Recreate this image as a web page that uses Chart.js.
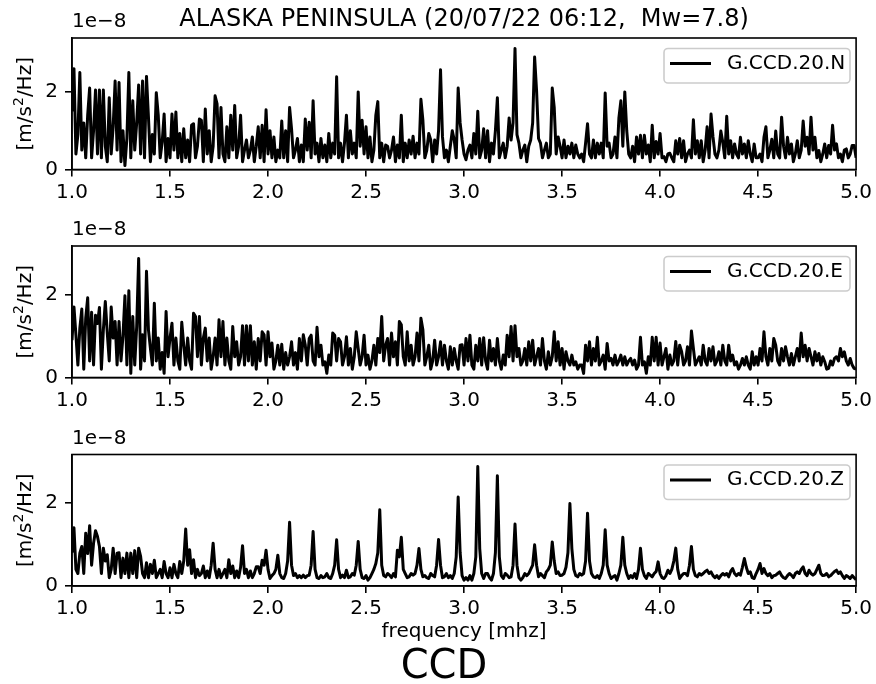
<!DOCTYPE html>
<html>
<head>
<meta charset="utf-8">
<script src="https://cdn.jsdelivr.net/npm/chart.js@4.4.0/dist/chart.umd.min.js"></script>
<style>
  html, body { margin: 0; padding: 0; background: #fff; }
  #wrap { position: relative; width: 876px; height: 684px; }
  #wrap canvas { position: absolute; left: 0; top: 0; }
</style>
</head>
<body>
<div id="wrap">
  <canvas id="chartN" width="876" height="684"></canvas>
  <canvas id="chartE" width="876" height="684"></canvas>
  <canvas id="chartZ" width="876" height="684"></canvas>
</div>
<script>
// spectra sampled every 0.01 mHz from 1.0 to 5.0, amplitudes in 1e-8 m/s^2/Hz
const F_START = 1.0;
const F_STEP = 0.01;
const xTicks = [1.0, 1.5, 2.0, 2.5, 3.0, 3.5, 4.0, 4.5, 5.0];
const yTicks = [0, 2];
const stations = ['G.CCD.20.N', 'G.CCD.20.E', 'G.CCD.20.Z'];
const yMax = [3.39, 3.17, 3.16];

const ampN = [
  1.5, 2.6, 0.4, 0.9, 2.5, 0.5, 1.2, 0.3, 1.4, 2.1,
  0.3, 1.0, 2.05, 0.4, 2.05, 0.3, 2.05, 0.6, 0.2, 1.85,
  0.4, 1.1, 2.28, 0.5, 2.24, 0.2, 1.0, 0.1, 0.8, 2.5,
  0.3, 1.77, 0.5, 1.2, 2.18, 0.4, 2.28, 0.3, 2.4, 1.35,
  0.2, 0.9, 0.4, 1.98, 1.4, 0.3, 0.7, 1.43, 0.2, 0.8,
  0.3, 1.43, 0.5, 1.48, 0.3, 0.93, 0.2, 1.05, 0.3, 0.76,
  0.2, 1.14, 1.18, 0.3, 0.6, 1.3, 1.27, 0.2, 1.56, 0.4,
  1.0, 0.2, 0.6, 1.9, 1.69, 0.3, 1.6, 0.4, 0.2, 1.1,
  0.3, 1.4, 0.5, 1.65, 0.3, 0.6, 1.4, 0.2, 0.5, 0.76,
  0.3, 0.5, 0.84, 0.2, 0.6, 1.1, 0.3, 1.14, 0.2, 1.54,
  0.4, 1.0, 0.3, 0.84, 0.2, 0.5, 0.3, 1.25, 0.3, 1.0,
  0.2, 1.6, 1.05, 0.3, 0.5, 0.8, 0.2, 0.63, 0.2, 1.3,
  0.5, 1.22, 0.3, 1.77, 0.4, 0.68, 0.2, 0.8, 0.3, 0.63,
  0.2, 0.93, 0.3, 0.68, 0.4, 2.39, 0.3, 0.68, 0.2, 0.68,
  1.4, 0.3, 1.0, 0.4, 0.68, 0.3, 2.0, 0.6, 1.27, 0.4,
  1.1, 0.3, 0.84, 0.2, 0.5, 1.4, 1.75, 0.3, 0.68, 0.2,
  0.63, 0.6, 0.3, 0.5, 0.84, 0.2, 0.63, 0.3, 1.4, 0.2,
  0.68, 0.3, 0.76, 0.4, 0.86, 0.3, 0.68, 0.4, 1.81, 1.27,
  0.3, 0.5, 0.93, 0.76, 0.2, 0.76, 0.4, 1.0, 2.57, 0.84,
  0.3, 0.5, 0.2, 0.6, 1.0, 0.76, 0.3, 2.1, 1.2, 0.76,
  0.4, 0.25, 0.5, 0.63, 0.3, 0.93, 0.4, 1.5, 0.3, 0.5,
  1.05, 0.3, 1.0, 0.2, 0.68, 0.4, 1.0, 1.85, 0.3, 0.5,
  0.68, 0.3, 0.6, 1.33, 0.76, 1.2, 3.12, 0.9, 0.68, 0.3,
  0.5, 0.63, 0.2, 0.6, 0.76, 1.2, 2.9, 2.03, 0.8, 0.68,
  0.3, 0.5, 0.68, 0.3, 0.4, 2.1, 1.6, 0.4, 0.84, 0.6,
  0.3, 0.76, 0.3, 0.6, 0.4, 0.68, 0.3, 0.63, 0.4, 0.3,
  0.4, 0.2, 0.68, 1.18, 0.4, 0.3, 0.76, 0.3, 0.68, 0.4,
  0.68, 0.3, 1.97, 0.6, 0.68, 0.3, 0.4, 0.84, 0.3, 1.33,
  1.77, 0.6, 2.0, 1.0, 0.4, 0.3, 0.6, 0.2, 0.84, 0.4,
  0.88, 0.3, 0.88, 0.4, 0.63, 0.2, 1.14, 0.3, 0.72, 0.4,
  0.93, 0.3, 0.33, 0.2, 0.4, 0.42, 0.3, 0.2, 0.74, 0.4,
  0.8, 0.3, 0.74, 0.2, 0.4, 0.5, 0.3, 1.28, 0.4, 0.74,
  0.3, 0.74, 0.2, 0.5, 1.1, 0.3, 1.43, 0.84, 0.4, 0.3,
  0.5, 0.99, 0.7, 0.3, 1.37, 0.4, 0.74, 0.3, 0.66, 0.4,
  0.3, 0.83, 0.4, 0.66, 0.3, 0.74, 0.4, 0.2, 0.66, 0.3,
  0.3, 0.4, 0.2, 0.83, 1.1, 0.3, 0.5, 0.78, 0.3, 0.99,
  0.4, 0.3, 1.35, 0.6, 0.3, 0.83, 0.4, 0.66, 0.2, 0.4,
  0.74, 0.3, 0.5, 1.25, 0.6, 0.83, 0.4, 1.35, 0.5, 0.83,
  0.3, 0.49, 0.2, 0.4, 0.66, 0.3, 0.62, 0.4, 1.14, 0.5,
  0.66, 0.3, 0.4, 0.2, 0.5, 0.53, 0.3, 0.4, 0.62, 0.62,
  0.3
];

const ampE = [
  0.9, 1.7, 1.03, 0.3, 1.19, 1.65, 0.2, 1.43, 1.92, 0.4,
  1.57, 0.3, 1.5, 1.3, 1.69, 0.2, 1.15, 1.83, 1.07, 0.4,
  1.7, 0.95, 1.35, 0.3, 1.35, 0.4, 1.0, 1.97, 0.3, 2.09,
  0.1, 1.47, 0.3, 1.23, 2.87, 0.2, 1.03, 0.4, 2.56, 1.15,
  0.7, 0.3, 1.79, 0.4, 0.95, 0.2, 0.6, 0.1, 1.59, 0.5,
  0.95, 1.31, 0.3, 0.95, 0.4, 0.2, 1.33, 0.78, 0.3, 0.95,
  0.4, 0.2, 1.55, 1.47, 0.5, 1.47, 0.3, 0.95, 1.19, 0.4,
  0.95, 0.2, 0.5, 0.95, 0.3, 1.39, 0.5, 1.35, 0.3, 0.95,
  0.4, 0.2, 1.23, 0.5, 0.86, 0.3, 0.5, 1.25, 0.3, 1.25,
  0.4, 1.25, 0.3, 0.86, 0.2, 0.94, 0.4, 1.1, 1.03, 0.3,
  1.1, 0.5, 0.83, 0.2, 0.4, 0.78, 0.3, 0.8, 0.2, 0.6,
  0.3, 0.5, 0.86, 0.3, 0.6, 0.2, 0.94, 0.4, 1.03, 0.78,
  0.3, 0.94, 1.02, 0.4, 0.3, 1.21, 0.5, 0.78, 0.3, 0.38,
  0.1, 0.54, 0.3, 1.07, 1.02, 0.4, 0.94, 0.86, 0.3, 0.5,
  0.98, 0.3, 0.7, 0.2, 0.5, 1.1, 0.7, 0.3, 0.5, 1.02,
  0.3, 0.54, 0.2, 0.4, 0.78, 0.3, 0.94, 0.6, 1.47, 0.4,
  0.78, 0.94, 0.3, 1.07, 0.5, 0.86, 0.3, 1.35, 1.27, 0.5,
  0.3, 1.1, 0.4, 0.78, 0.3, 0.5, 1.07, 0.4, 1.43, 1.15,
  0.3, 0.5, 0.78, 0.2, 0.4, 0.9, 0.3, 0.5, 0.86, 0.3,
  0.78, 0.4, 0.2, 0.74, 0.3, 0.7, 0.4, 0.2, 0.78, 0.79,
  0.3, 0.94, 0.4, 1.02, 0.3, 0.2, 0.78, 0.4, 0.94, 0.3,
  0.96, 0.4, 0.2, 0.9, 0.4, 0.7, 0.3, 0.94, 0.4, 0.2,
  0.54, 0.3, 1.02, 0.5, 1.23, 0.4, 1.25, 0.5, 0.7, 0.3,
  0.4, 0.7, 0.3, 0.86, 0.4, 0.9, 0.3, 0.5, 0.7, 0.3,
  0.94, 0.4, 0.2, 0.62, 0.3, 0.5, 1.1, 0.4, 0.86, 0.3,
  0.7, 0.2, 0.62, 0.4, 0.3, 0.54, 0.3, 0.38, 0.2, 0.3,
  0.3, 0.1, 0.78, 0.4, 0.86, 0.3, 0.7, 0.4, 0.97, 0.3,
  0.4, 0.54, 0.2, 0.82, 0.4, 0.46, 0.3, 0.54, 0.3, 0.4,
  0.54, 0.3, 0.5, 0.3, 0.4, 0.46, 0.3, 0.42, 0.2, 0.3,
  0.97, 0.3, 0.38, 0.1, 0.5, 0.3, 0.97, 0.4, 0.97, 0.3,
  0.83, 0.3, 0.5, 0.7, 0.2, 0.54, 0.3, 0.4, 0.87, 0.3,
  0.78, 0.62, 0.3, 0.4, 0.74, 0.3, 1.12, 0.7, 0.3, 0.4,
  0.5, 0.3, 0.78, 0.4, 0.3, 0.7, 0.4, 0.74, 0.3, 0.4,
  0.62, 0.3, 0.78, 0.4, 0.3, 0.78, 0.4, 0.54, 0.3, 0.38,
  0.2, 0.3, 0.46, 0.3, 0.5, 0.3, 0.2, 0.62, 0.3, 0.5,
  0.3, 0.7, 0.4, 1.1, 0.5, 0.3, 0.7, 0.4, 0.94, 0.78,
  0.4, 0.3, 0.7, 0.4, 0.74, 0.5, 0.3, 0.58, 0.3, 0.5,
  0.7, 0.4, 1.07, 0.5, 0.78, 0.4, 0.7, 0.5, 0.3, 0.62,
  0.4, 0.58, 0.3, 0.5, 0.38, 0.2, 0.22, 0.4, 0.3, 0.46,
  0.5, 0.4, 0.7, 0.5, 0.62, 0.4, 0.3, 0.46, 0.3, 0.22,
  0.2
];

const ampZ = [
  0.8, 1.4, 0.4, 0.3, 0.79, 0.95, 0.3, 1.27, 0.78, 1.45,
  0.5, 1.03, 1.33, 1.19, 0.95, 0.3, 0.91, 0.6, 0.75, 0.2,
  0.4, 0.91, 0.3, 0.79, 0.8, 0.2, 0.67, 0.3, 0.79, 0.2,
  0.79, 0.3, 0.85, 0.2, 0.91, 0.71, 0.3, 0.2, 0.56, 0.2,
  0.52, 0.3, 0.62, 0.2, 0.3, 0.4, 0.2, 0.59, 0.3, 0.2,
  0.44, 0.2, 0.52, 0.3, 0.2, 0.59, 0.3, 0.6, 1.37, 0.5,
  0.87, 0.3, 0.63, 0.2, 0.4, 0.25, 0.3, 0.48, 0.2, 0.36,
  0.2, 0.5, 1.03, 0.4, 0.2, 0.4, 0.2, 0.3, 0.4, 0.2,
  0.63, 0.3, 0.48, 0.2, 0.36, 0.2, 0.45, 0.97, 0.3, 0.4,
  0.2, 0.36, 0.2, 0.3, 0.46, 0.46, 0.3, 0.62, 0.5, 0.86,
  0.4, 0.18, 0.25, 0.3, 0.4, 0.74, 0.3, 0.2, 0.18, 0.3,
  0.6, 1.53, 0.5, 0.25, 0.3, 0.2, 0.25, 0.2, 0.26, 0.2,
  0.25, 0.26, 0.5, 1.31, 0.4, 0.2, 0.18, 0.25, 0.2, 0.22,
  0.3, 0.2, 0.18, 0.3, 0.5, 1.11, 0.4, 0.2, 0.26, 0.2,
  0.38, 0.2, 0.22, 0.3, 0.26, 0.5, 1.07, 0.4, 0.2, 0.18,
  0.25, 0.14, 0.2, 0.3, 0.4, 0.54, 0.8, 1.83, 0.5, 0.25,
  0.22, 0.3, 0.26, 0.2, 0.3, 0.22, 0.86, 0.7, 1.17, 0.4,
  0.3, 0.2, 0.22, 0.3, 0.26, 0.3, 0.5, 0.9, 0.4, 0.22,
  0.25, 0.2, 0.18, 0.3, 0.25, 0.22, 0.5, 1.12, 0.5, 0.2,
  0.22, 0.3, 0.2, 0.25, 0.18, 0.3, 0.7, 2.14, 0.8, 0.25,
  0.14, 0.2, 0.14, 0.25, 0.14, 0.3, 0.7, 2.87, 0.9, 0.3,
  0.18, 0.3, 0.3, 0.2, 0.14, 0.3, 0.8, 2.65, 0.7, 0.25,
  0.18, 0.3, 0.26, 0.2, 0.22, 0.5, 1.49, 0.5, 0.2, 0.14,
  0.2, 0.3, 0.25, 0.3, 0.4, 0.5, 0.99, 0.5, 0.22, 0.3,
  0.25, 0.2, 0.34, 0.4, 0.5, 1.06, 0.6, 0.3, 0.34, 0.25,
  0.26, 0.3, 0.45, 0.8, 1.98, 0.9, 0.4, 0.25, 0.22, 0.3,
  0.26, 0.3, 0.6, 1.75, 0.6, 0.3, 0.22, 0.2, 0.25, 0.18,
  0.3, 0.5, 1.35, 0.5, 0.3, 0.18, 0.22, 0.25, 0.14, 0.3,
  0.5, 1.17, 0.5, 0.3, 0.18, 0.25, 0.2, 0.3, 0.18, 0.4,
  0.91, 0.4, 0.25, 0.18, 0.3, 0.26, 0.22, 0.3, 0.35, 0.58,
  0.3, 0.2, 0.18, 0.25, 0.38, 0.3, 0.4, 0.6, 0.91, 0.4,
  0.18, 0.25, 0.3, 0.3, 0.25, 0.5, 0.95, 0.4, 0.25, 0.22,
  0.3, 0.26, 0.3, 0.35, 0.38, 0.3, 0.34, 0.25, 0.2, 0.25,
  0.18, 0.25, 0.3, 0.26, 0.3, 0.22, 0.35, 0.42, 0.3, 0.25,
  0.3, 0.26, 0.45, 0.66, 0.45, 0.3, 0.34, 0.2, 0.18, 0.3,
  0.4, 0.54, 0.3, 0.42, 0.3, 0.25, 0.3, 0.2, 0.25, 0.26,
  0.3, 0.34, 0.25, 0.2, 0.18, 0.25, 0.3, 0.26, 0.2, 0.3,
  0.34, 0.3, 0.4, 0.46, 0.3, 0.25, 0.38, 0.3, 0.26, 0.3,
  0.4, 0.5, 0.3, 0.25, 0.26, 0.3, 0.22, 0.25, 0.3, 0.35,
  0.38, 0.3, 0.34, 0.25, 0.18, 0.25, 0.22, 0.18, 0.25, 0.2,
  0.15
];

const FONT = "'DejaVu Sans', 'Liberation Sans', sans-serif";
Chart.defaults.font.family = FONT;
Chart.defaults.font.size = 20;
Chart.defaults.color = '#000';

// pixel rows of each panel's plot box (top, bottom)
const panelRows = [[38, 169.5], [246, 377.5], [454.5, 586]];
const X_AXIS_H = 40;

// frame, offset text, y label, legend box and figure-level labels
const panelDecor = {
  id: 'panelDecor',
  afterDraw(chart, args, opts) {
    const { ctx, chartArea: a } = chart;
    ctx.save();

    ctx.strokeStyle = '#000';
    ctx.lineWidth = 1.6;
    ctx.strokeRect(a.left, a.top, a.right - a.left, a.bottom - a.top);

    ctx.fillStyle = '#000';
    ctx.font = `20px ${FONT}`;
    ctx.textAlign = 'left';
    ctx.textBaseline = 'alphabetic';
    ctx.fillText('1e\u22128', a.left, a.top - 11);

    // y label with superscript 2
    const p1 = '[m/s', p2 = '2', p3 = '/Hz]';
    ctx.font = `20px ${FONT}`;
    const w1 = ctx.measureText(p1).width, w3 = ctx.measureText(p3).width;
    ctx.font = `14px ${FONT}`;
    const w2 = ctx.measureText(p2).width;
    const total = w1 + w2 + w3;
    ctx.translate(26, (a.top + a.bottom) / 2);
    ctx.rotate(-Math.PI / 2);
    ctx.textBaseline = 'middle';
    ctx.font = `20px ${FONT}`;
    ctx.fillText(p1, -total / 2, 0);
    ctx.font = `14px ${FONT}`;
    ctx.fillText(p2, -total / 2 + w1, -7);
    ctx.font = `20px ${FONT}`;
    ctx.fillText(p3, -total / 2 + w1 + w2, 0);
    ctx.setTransform(1, 0, 0, 1, 0, 0);

    // legend
    const lx = 664, ly = a.top + 10.5, lw = 186, lh = 34.5;
    ctx.beginPath();
    ctx.roundRect(lx, ly, lw, lh, 4);
    ctx.fillStyle = 'rgba(255,255,255,0.8)';
    ctx.fill();
    ctx.strokeStyle = '#cccccc';
    ctx.lineWidth = 1.6;
    ctx.stroke();
    const midY = a.top + 25.5;
    ctx.beginPath();
    ctx.moveTo(670, midY);
    ctx.lineTo(711, midY);
    ctx.strokeStyle = '#000';
    ctx.lineWidth = 3;
    ctx.stroke();
    ctx.fillStyle = '#000';
    ctx.font = `20px ${FONT}`;
    ctx.textBaseline = 'middle';
    ctx.textAlign = 'left';
    ctx.fillText(chart.data.datasets[0].label, 727, midY);

    const cx = (a.left + a.right) / 2;
    ctx.textAlign = 'center';
    if (opts.title) {
      ctx.font = `24px ${FONT}`;
      ctx.textBaseline = 'alphabetic';
      ctx.fillText(opts.title, cx, 26);
    }
    if (opts.xlabel) {
      ctx.font = `20px ${FONT}`;
      ctx.textBaseline = 'middle';
      ctx.fillText(opts.xlabel, cx, 632);
    }
    if (opts.footer) {
      ctx.font = `40px ${FONT}`;
      ctx.textBaseline = 'middle';
      ctx.fillText(opts.footer, 444, 668);
    }
    ctx.restore();
  }
};

function makePanel(canvasId, k, amps, extra) {
  const [top, bottom] = panelRows[k];
  const points = amps.map((v, i) => ({ x: F_START + i * F_STEP, y: v }));
  return new Chart(document.getElementById(canvasId), {
    type: 'line',
    data: {
      datasets: [{
        label: stations[k],
        data: points,
        borderColor: '#000',
        borderWidth: 3,
        pointRadius: 0,
        tension: 0,
        fill: false,
        borderJoinStyle: 'round'
      }]
    },
    options: {
      responsive: false,
      animation: false,
      events: [],
      layout: { padding: { left: 0, right: 16, top: top, bottom: 684 - bottom - X_AXIS_H } },
      scales: {
        x: {
          type: 'linear',
          min: 1.0,
          max: 5.0,
          afterFit(scale) { scale.height = X_AXIS_H; },
          afterBuildTicks(scale) { scale.ticks = xTicks.map(v => ({ value: v })); },
          grid: { drawOnChartArea: false, drawTicks: true, tickLength: 7, color: '#000', lineWidth: 1.6 },
          border: { display: true, color: '#000', width: 1.6 },
          ticks: { padding: 4, maxRotation: 0, autoSkip: false, callback: v => v.toFixed(1) }
        },
        y: {
          min: 0,
          max: yMax[k],
          afterFit(scale) { scale.width = 72; },
          afterBuildTicks(scale) { scale.ticks = yTicks.map(v => ({ value: v })); },
          grid: { drawOnChartArea: false, drawTicks: true, tickLength: 7, color: '#000', lineWidth: 1.6 },
          border: { display: true, color: '#000', width: 1.6 },
          ticks: { padding: 7, callback: v => String(v) }
        }
      },
      plugins: {
        legend: { display: false },
        tooltip: { enabled: false },
        panelDecor: extra
      }
    },
    plugins: [panelDecor]
  });
}

makePanel('chartN', 0, ampN, { title: 'ALASKA PENINSULA (20/07/22 06:12,  Mw=7.8)' });
makePanel('chartE', 1, ampE, {});
makePanel('chartZ', 2, ampZ, { xlabel: 'frequency [mhz]', footer: 'CCD' });
</script>
</body>
</html>
